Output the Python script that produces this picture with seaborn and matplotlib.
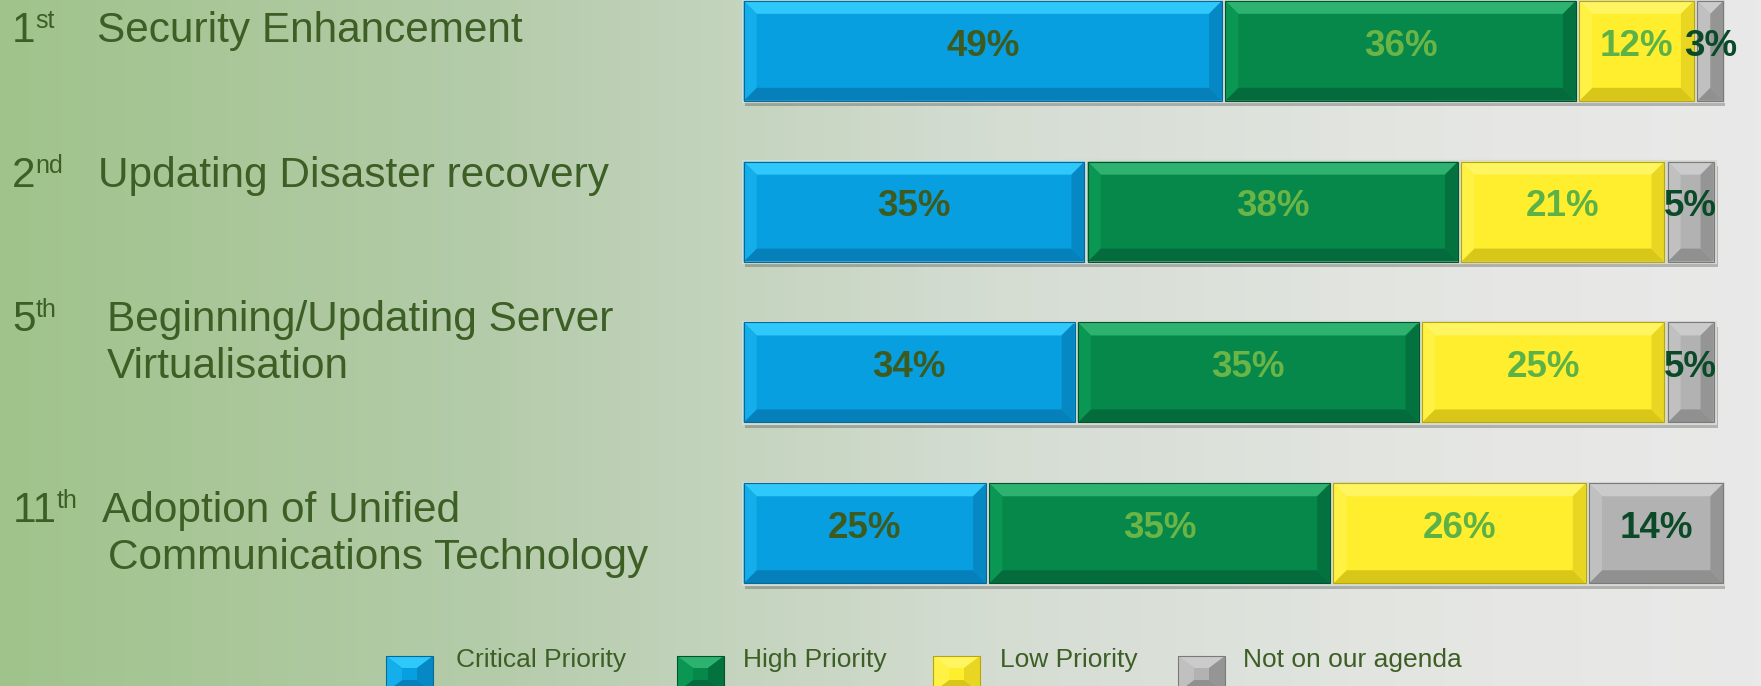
import numpy as np
import pandas as pd
import seaborn as sns
import matplotlib.pyplot as plt
import matplotlib.patheffects as pe
from matplotlib.colors import LinearSegmentedColormap
from matplotlib.patches import Polygon

# data
ranks = ['1', '2', '5', '11']
suffixes = ['st', 'nd', 'th', 'th']
items = ['Security Enhancement', 'Updating Disaster recovery',
         'Beginning/Updating Server\nVirtualisation',
         'Adoption of Unified\nCommunications Technology']
series = ['Critical Priority', 'High Priority', 'Low Priority', 'Not on our agenda']
critical = [49, 35, 34, 25]
high = [36, 38, 35, 35]
low = [12, 21, 25, 26]
not_agenda = [3, 5, 5, 14]

df = pd.DataFrame({'item': items, 'Critical Priority': critical, 'High Priority': high,
                   'Low Priority': low, 'Not on our agenda': not_agenda})
cum = df[series].cumsum(axis=1)

# styles: face, top, left, right, bottom, outline, label colour
style = {
    'Critical Priority': ['#079FE0', '#2EC8FA', '#14AFEA', '#0688C5', '#0580BA', '#05699A', '#3E5B1F'],
    'High Priority': ['#05884A', '#2DB36F', '#0A9653', '#04723E', '#036B3C', '#02542E', '#6AB545'],
    'Low Priority': ['#FFEE2E', '#FFF560', '#FFF244', '#E8D622', '#D8C618', '#B8A70C', '#5CB247'],
    'Not on our agenda': ['#B2B2B2', '#CBCBCB', '#C0C0C0', '#959595', '#909090', '#7A7A7A', '#0B4A28'],
}
TXT = '#3D5F26'
GAP = '#D6DBD3'

sns.set_style('white')
plt.rcParams['font.family'] = ['Liberation Sans', 'DejaVu Sans']

W, H = 1761, 686
fig = plt.figure(figsize=(W / 100, H / 100), dpi=100)

# background gradient
bg = fig.add_axes([0, 0, 1, 1])
bg.set_zorder(-1)
grad = LinearSegmentedColormap.from_list('bg', [(0, '#A0C38B'), (0.284, '#B5CCAB'),
                                                (0.568, '#D5DDD3'), (0.85, '#E6E7E4'),
                                                (1, '#E9E9E9')])
bg.imshow(np.linspace(0, 1, 512)[None, :], cmap=grad, aspect='auto', extent=[0, 1, 0, 1])
bg.axis('off')

# main bars
BAR_W = 0.628
ax = fig.add_axes([742 / W, 1 - 600 / H, 983 / W, 600 / H])
ax.patch.set_alpha(0)
first = True
for s in reversed(series):
    sns.barplot(x=cum[s], y=df['item'], orient='h', color=style[s][0], saturation=1,
                width=BAR_W, edgecolor=GAP, linewidth=2.2, ax=ax)
    if first:
        for p in ax.patches:
            p.set_path_effects([pe.SimplePatchShadow(offset=(2, -3.5), alpha=0.3), pe.Normal()])
        first = False
ax.set_xlim(0, 100)
ax.set_ylim(3.415, -0.316)
ax.axis('off')

px_x = 983 / 100
px_y = 160.8


def bevel(a, x0, x1, y0, y1, bx, by, c):
    bx = min(bx, (x1 - x0) / 2)
    by = min(by, (y1 - y0) / 2)
    polys = [
        ([(x0, y0), (x1, y0), (x1 - bx, y0 + by), (x0 + bx, y0 + by)], c[1]),
        ([(x0, y1), (x1, y1), (x1 - bx, y1 - by), (x0 + bx, y1 - by)], c[4]),
        ([(x0, y0), (x0 + bx, y0 + by), (x0 + bx, y1 - by), (x0, y1)], c[2]),
        ([(x1, y0), (x1 - bx, y0 + by), (x1 - bx, y1 - by), (x1, y1)], c[3]),
    ]
    for pts, col in polys:
        a.add_patch(Polygon(pts, closed=True, facecolor=col, edgecolor='none', zorder=3))
    a.add_patch(Polygon([(x0, y0), (x1, y0), (x1, y1), (x0, y1)], closed=True,
                        facecolor='none', edgecolor=c[5], linewidth=0.8, zorder=4))


gx = 1.6 / px_x
gy = 0.5 / px_y
for i in range(len(items)):
    left = 0
    for s in series:
        v = df[s][i]
        x0, x1 = left + gx, left + v - gx
        bevel(ax, x0, x1, i - BAR_W / 2 + gy, i + BAR_W / 2 - gy, 13 / px_x, 13 / px_y, style[s])
        ax.text(left + v / 2, i + 0.03, f'{v}%', ha='center', va='baseline', fontsize=26.5,
                fontweight='bold', color=style[s][6], zorder=5, clip_on=False)
        left += v

# overlay in pixel coordinates for labels and legend
ov = fig.add_axes([0, 0, 1, 1])
ov.set_zorder(2)
ov.patch.set_alpha(0)
ov.set_xlim(0, W)
ov.set_ylim(H, 0)
ov.axis('off')

num_x = [12, 12, 12, 13]
sup_x = [35, 35, 36, 57]
item_x = [97, 98, 107, 102]
base_y = [42, 187, 331, 522]
for i in range(len(items)):
    ov.text(num_x[i], base_y[i], ranks[i], fontsize=30.5, color=TXT, va='baseline')
    ov.text(sup_x[i], base_y[i] - 14, suffixes[i], fontsize=18, color=TXT, va='baseline')
    for k, line in enumerate(items[i].split('\n')):
        ov.text(item_x[i] + 6 * k * (i == 3), base_y[i] + 47.5 * k, line, fontsize=30.5,
                color=TXT, va='baseline')

leg_sq_x = [386, 677, 933, 1178]
leg_txt_x = [456, 743, 1000, 1243]
for k, s in enumerate(series):
    x0 = leg_sq_x[k]
    bevel(ov, x0, x0 + 47, 656, 692, 16, 12, style[s])
    ov.add_patch(Polygon([(x0, 656), (x0 + 47, 656), (x0 + 47, 692), (x0, 692)], closed=True,
                         facecolor=style[s][0], edgecolor='none', zorder=2))
    ov.text(leg_txt_x[k], 667, s, fontsize=19, color=TXT, va='baseline')

fig.savefig('out.png', dpi=100)
